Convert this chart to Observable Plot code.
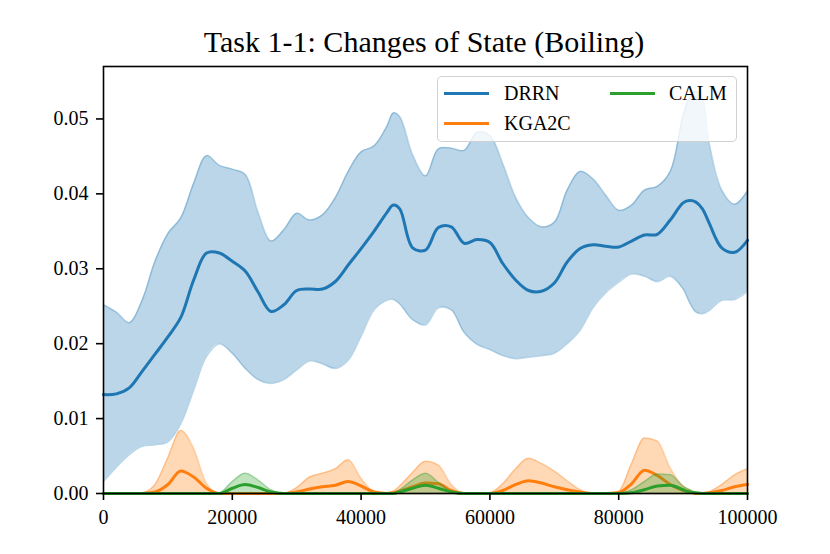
<!DOCTYPE html>
<html><head><meta charset="utf-8">
<script src="https://cdn.jsdelivr.net/npm/d3@7"></script>
<script src="https://cdn.jsdelivr.net/npm/@observablehq/plot@0.6"></script>
<style>
body{margin:0;background:#fff;}
#wrap{position:relative;width:830px;height:554px;font-family:"Liberation Serif","Times New Roman",serif;}
#title{position:absolute;left:0;top:27px;width:848px;text-align:center;font-size:30px;line-height:30px;color:#000;white-space:nowrap;}
#legend{position:absolute;left:437px;top:76px;width:300px;height:66px;box-sizing:border-box;border:1.6px solid rgba(204,204,204,0.9);border-radius:5px;background:rgba(255,255,255,0.8);}
.sw{position:absolute;height:3px;width:45px;}
.lt{position:absolute;font-size:20px;line-height:20px;color:#000;white-space:nowrap;}
</style>
</head><body>
<div id="wrap">
<div id="chart"></div>
<div id="title"></div>
<div id="legend"></div>
</div>
<script>
const title = "Task 1-1: Changes of State (Boiling)";
const seriesNames = ["DRRN", "KGA2C", "CALM"];
const seriesColors = ["#1f77b4", "#ff7f0e", "#2ca02c"];
const xTicks = [0, 20000, 40000, 60000, 80000, 100000];
const yTicks = [0, 0.01, 0.02, 0.03, 0.04, 0.05];

const steps = [0,2000,4000,6000,8000,10000,12000,14000,16000,18000,20000,22000,24000,26000,28000,30000,32000,34000,36000,38000,40000,42000,44000,45000,46000,48000,50000,52000,54000,56000,58000,60000,62000,64000,66000,68000,70000,72000,74000,76000,78000,80000,82000,84000,86000,88000,90000,91000,92000,93000,94000,96000,98000,100000];

const drrnMean = [.0132,.0133,.0141,.0163,.0186,.0209,.0235,.0285,.0321,.0321,.0310,.0297,.0269,.0243,.0252,.0271,.0273,.0273,.0283,.0305,.0327,.0350,.0375,.0385,.0380,.0328,.0325,.0355,.0356,.0334,.0339,.0335,.0307,.0285,.0271,.0270,.0281,.0309,.0327,.0332,.0330,.0329,.0337,.0345,.0346,.0365,.0388,.0391,.0389,.0380,.0362,.0328,.0322,.0338];
const drrnUpper = [.0252,.0242,.0228,.0258,.0310,.0347,.0368,.0414,.0451,.0438,.0433,.0426,.0375,.0337,.0352,.0374,.0365,.0372,.0395,.0430,.0456,.0464,.0490,.0508,.0503,.0452,.0424,.0460,.0461,.0458,.0482,.0478,.0440,.0395,.0368,.0356,.0362,.0405,.0430,.0420,.0398,.0378,.0385,.0405,.0410,.0430,.0505,.0528,.0537,.0528,.0470,.0405,.0386,.0404];
const drrnLower = [.0016,.0035,.0052,.0063,.0065,.0069,.0093,.0138,.0183,.0200,.0187,.0167,.0152,.0147,.0152,.0165,.0177,.0173,.0167,.0178,.0210,.0245,.0258,.0259,.0253,.0232,.0225,.0248,.0245,.0215,.0199,.0192,.0184,.0180,.0182,.0184,.0187,.0200,.0218,.0248,.0268,.0282,.0293,.0290,.0283,.0290,.0273,.0255,.0242,.0240,.0244,.0258,.0259,.0270];

const kgaMean = [0,0,0,0,.0002,.0012,.0030,.0022,.0007,0,0,0,0,0,0,.0002,.0006,.0009,.0011,.0016,.0010,.0002,0,.0001,.0003,.0009,.0014,.0013,.0004,0,0,0,.0004,.0012,.0017,.0014,.0009,.0005,.0002,0,0,.0001,.0013,.0031,.0024,.0012,.0004,.0002,0,0,.0001,.0004,.0009,.0012];
const kgaUpper = [0,0,0,.0001,.0012,.0048,.0084,.0060,.0013,0,0,0,0,0,0,.0008,.0022,.0027,.0033,.0045,.0020,.0003,.0001,.0003,.0010,.0028,.0043,.0038,.0012,0,0,.0001,.0013,.0033,.0047,.0040,.0030,.0017,.0005,0,0,.0003,.0040,.0074,.0070,.0034,.0010,.0005,.0001,0,.0002,.0012,.0025,.0033];
const kgaLower = steps.map(() => 0);

const calmMean = [0,0,0,0,0,0,0,0,0,0,.0007,.0012,.0008,.0002,0,0,0,0,0,0,0,0,0,0,.0002,.0007,.0011,.0007,.0002,0,0,0,0,0,0,0,0,0,0,0,0,0,.0001,.0005,.0010,.0011,.0005,.0002,.0001,0,0,0,0,0];
const calmUpper = [0,0,0,0,0,0,0,0,0,.0001,.0016,.0027,.0018,.0005,0,0,0,0,0,0,0,0,0,.0001,.0005,.0018,.0027,.0015,.0003,0,0,0,0,0,0,0,0,0,0,0,0,0,.0005,.0016,.0026,.0025,.0010,.0005,.0001,0,0,0,0,0];
const calmLower = steps.map(() => 0);

const series = [
  {name: seriesNames[0], color: seriesColors[0], mean: drrnMean, hi: drrnUpper, lo: drrnLower, curve: "catmull-rom"},
  {name: seriesNames[1], color: seriesColors[1], mean: kgaMean, hi: kgaUpper, lo: kgaLower, curve: "monotone-x"},
  {name: seriesNames[2], color: seriesColors[2], mean: calmMean, hi: calmUpper, lo: calmLower, curve: "monotone-x"}
];

const marks = [];
for (const s of series) {
  const curve = s.curve;
  const rows = steps.map((st, i) => ({step: st, mean: s.mean[i], hi: s.hi[i], lo: s.lo[i]}));
  marks.push(Plot.lineY(rows, {x: "step", y: "mean", stroke: s.color, strokeWidth: 3, curve}));
  marks.push(Plot.areaY(rows, {x: "step", y1: "lo", y2: "hi", fill: s.color, fillOpacity: 0.3, curve}));
  marks.push(Plot.lineY(rows, {x: "step", y: "hi", stroke: s.color, strokeOpacity: 0.3, strokeWidth: 1.5, curve}));
  marks.push(Plot.lineY(rows, {x: "step", y: "lo", stroke: s.color, strokeOpacity: 0.3, strokeWidth: 1.5, curve}));
}

const plot = Plot.plot({
  width: 830, height: 554,
  marginLeft: 103, marginRight: 83, marginTop: 66, marginBottom: 61,
  style: {fontFamily: '"Liberation Serif", "Times New Roman", serif', fontSize: "20px", background: "white", color: "black"},
  x: {domain: [0, 100000]},
  y: {domain: [0, 0.057]},
  marks: [
    ...marks,
    Plot.frame({stroke: "black", strokeWidth: 1.6}),
    Plot.axisX({ticks: xTicks, tickFormat: d => String(d), tickSize: 7, tickPadding: 9, strokeWidth: 1.6, label: null, fill: "black"}),
    Plot.axisY({ticks: yTicks, tickFormat: d3.format(".2f"), tickSize: 7, tickPadding: 8, strokeWidth: 1.6, label: null, fill: "black"})
  ]
});
document.getElementById("chart").appendChild(plot);
document.getElementById("title").textContent = title;

// legend
const legend = document.getElementById("legend");
const pos = [
  {lx: 6, cy: 16, tx: 66},
  {lx: 6, cy: 46, tx: 66},
  {lx: 172, cy: 16, tx: 231}
];
series.forEach((s, i) => {
  const p = pos[i];
  const sw = document.createElement("div");
  sw.className = "sw";
  sw.style.left = p.lx + "px";
  sw.style.top = (p.cy - 1.5) + "px";
  sw.style.background = s.color;
  legend.appendChild(sw);
  const t = document.createElement("div");
  t.className = "lt";
  t.style.left = p.tx + "px";
  t.style.top = (p.cy - 10) + "px";
  t.textContent = s.name;
  legend.appendChild(t);
});
</script>
</body></html>
